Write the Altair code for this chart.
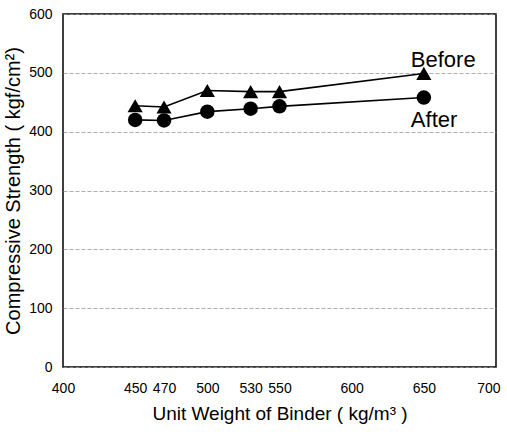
import altair as alt
import pandas as pd

binder = [450, 470, 500, 530, 550, 650]
before = [444, 442, 470, 468, 468, 499]
after = [420, 419, 434, 439, 443, 458]

label_text = ["Before", "After"]
label_x = [641, 641]
label_y = [522, 420]

x_ticks = [400, 450, 470, 500, 530, 550, 600, 650, 700]
y_ticks = [0, 100, 200, 300, 400, 500, 600]

df_b = pd.DataFrame({"x": binder, "y": before})
df_a = pd.DataFrame({"x": binder, "y": after})
df_l = pd.DataFrame({"x": label_x, "y": label_y, "t": label_text})

FONT = "Liberation Sans"

xs = alt.Scale(domain=[400, 700], nice=False, zero=False)
ys = alt.Scale(domain=[0, 600], nice=False)

xax = alt.Axis(values=x_ticks, title="Unit Weight of Binder ( kg/m³ )", grid=False,
               domain=False, ticks=False,
               labelFont=FONT, labelFontSize=14, labelColor="black", labelPadding=14,
               labelAlign={"condition": {"test": "datum.value == 700", "value": "right"},
                           "value": "center"},
               labelOffset={"condition": {"test": "datum.value == 700", "value": 4},
                            "value": 0},
               titleFont=FONT, titleFontSize=19, titleFontWeight="normal", titleColor="black",
               titlePadding=9, labelFlush=False)
yax = alt.Axis(values=y_ticks, title="Compressive Strength ( kgf/cm²)", grid=True,
               gridColor="#999999", gridDash=[4, 2], gridWidth=0.8,
               domain=False, ticks=False, labelFont=FONT, labelFontSize=14,
               labelColor="black", labelPadding=11, titleFont=FONT, titleFontSize=20,
               titleFontWeight="normal", titleColor="black", titlePadding=5)

base_b = alt.Chart(df_b).encode(x=alt.X("x:Q", scale=xs, axis=xax), y=alt.Y("y:Q", scale=ys, axis=yax))
line_b = base_b.mark_line(color="black", strokeWidth=1.6)
pts_b = base_b.mark_point(shape="triangle-up", filled=True, color="black", size=230, opacity=1)

base_a = alt.Chart(df_a).encode(x=alt.X("x:Q", scale=xs), y=alt.Y("y:Q", scale=ys))
line_a = base_a.mark_line(color="black", strokeWidth=1.6)
pts_a = base_a.mark_point(shape="circle", filled=True, color="black", size=210, opacity=1)

labels = alt.Chart(df_l).mark_text(align="left", baseline="middle", font=FONT,
                                   fontSize=22, color="black").encode(
    x=alt.X("x:Q", scale=xs), y=alt.Y("y:Q", scale=ys), text="t:N")

chart = alt.layer(line_b, line_a, pts_b, pts_a, labels).properties(
    width=433, height=353,
    autosize=alt.AutoSizeParams(type="none"),
    padding={"left": 63, "top": 14, "right": 11, "bottom": 67},
    background="white",
).configure_view(stroke="black", strokeWidth=1.5)

chart.save("out.html", embed_options={"renderer": "svg", "actions": False})
